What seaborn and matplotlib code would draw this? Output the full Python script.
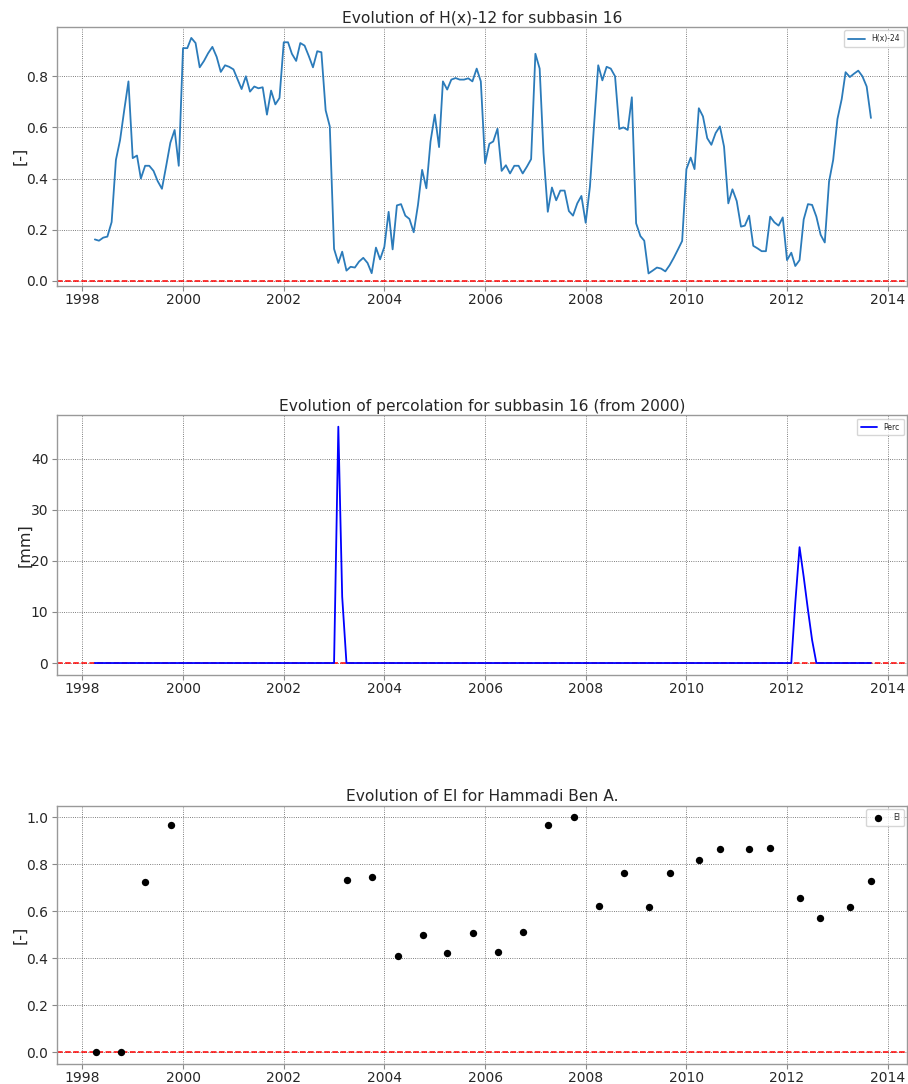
import numpy as np
import pandas as pd
import matplotlib
matplotlib.use("Agg")
import matplotlib.pyplot as plt
import matplotlib.dates as mdates
import seaborn as sns

# Monthly dates of the simulation output
months = pd.date_range("1998-04-01", "2013-09-01", freq="MS")

# H(x)-24 index, one row per year (1998 starts in April, 2013 ends in September)
hx_values = [
    0.162, 0.157, 0.169, 0.173, 0.230, 0.473, 0.550, 0.670, 0.780,
    0.480, 0.490, 0.400, 0.450, 0.450, 0.430, 0.390, 0.360, 0.450, 0.540, 0.590, 0.450,
    0.910, 0.910, 0.950, 0.930, 0.835, 0.860, 0.890, 0.915, 0.876, 0.817, 0.843, 0.837,
    0.827, 0.787, 0.750, 0.800, 0.740, 0.760, 0.753, 0.757, 0.650, 0.744, 0.690, 0.715,
    0.933, 0.933, 0.888, 0.860, 0.930, 0.920, 0.880, 0.835, 0.898, 0.894, 0.667, 0.604,
    0.125, 0.070, 0.114, 0.040, 0.055, 0.052, 0.075, 0.090, 0.070, 0.030, 0.130, 0.084,
    0.133, 0.270, 0.123, 0.295, 0.300, 0.255, 0.242, 0.190, 0.297, 0.434, 0.362, 0.545,
    0.650, 0.523, 0.780, 0.748, 0.787, 0.793, 0.787, 0.787, 0.792, 0.780, 0.830, 0.780,
    0.460, 0.536, 0.545, 0.595, 0.430, 0.452, 0.420, 0.450, 0.450, 0.420, 0.447, 0.476,
    0.888, 0.830, 0.500, 0.270, 0.365, 0.315, 0.353, 0.353, 0.273, 0.255, 0.303, 0.332,
    0.227, 0.369, 0.604, 0.843, 0.784, 0.837, 0.830, 0.800, 0.594, 0.600, 0.590, 0.718,
    0.225, 0.175, 0.157, 0.029, 0.040, 0.052, 0.048, 0.037, 0.061, 0.090, 0.123, 0.156,
    0.437, 0.482, 0.437, 0.675, 0.643, 0.558, 0.532, 0.578, 0.604, 0.525, 0.303, 0.358,
    0.312, 0.212, 0.216, 0.255, 0.137, 0.127, 0.116, 0.116, 0.251, 0.229, 0.216, 0.248,
    0.081, 0.110, 0.058, 0.081, 0.240, 0.300, 0.297, 0.251, 0.180, 0.150, 0.388, 0.473,
    0.633, 0.711, 0.816, 0.797, 0.810, 0.822, 0.800, 0.760, 0.637,
]

# Monthly percolation [mm], one row per year
perc_values = [
    0, 0, 0, 0, 0, 0, 0, 0, 0,
    0, 0, 0, 0, 0, 0, 0, 0, 0, 0, 0, 0,
    0, 0, 0, 0, 0, 0, 0, 0, 0, 0, 0, 0,
    0, 0, 0, 0, 0, 0, 0, 0, 0, 0, 0, 0,
    0, 0, 0, 0, 0, 0, 0, 0, 0, 0, 0, 0,
    0, 46.3, 13.0, 0, 0, 0, 0, 0, 0, 0, 0, 0,
    0, 0, 0, 0, 0, 0, 0, 0, 0, 0, 0, 0,
    0, 0, 0, 0, 0, 0, 0, 0, 0, 0, 0, 0,
    0, 0, 0, 0, 0, 0, 0, 0, 0, 0, 0, 0,
    0, 0, 0, 0, 0, 0, 0, 0, 0, 0, 0, 0,
    0, 0, 0, 0, 0, 0, 0, 0, 0, 0, 0, 0,
    0, 0, 0, 0, 0, 0, 0, 0, 0, 0, 0, 0,
    0, 0, 0, 0, 0, 0, 0, 0, 0, 0, 0, 0,
    0, 0, 0, 0, 0, 0, 0, 0, 0, 0, 0, 0,
    0, 0, 11.8, 22.7, 16.9, 10.4, 4.5, 0, 0, 0, 0, 0,
    0, 0, 0, 0, 0, 0, 0, 0, 0,
]

# EI observations at Hammadi Ben A.
ei_dates = pd.to_datetime([
    "1998-04-07", "1998-10-05", "1999-04-02", "1999-10-03",
    "2003-04-07", "2003-10-05", "2004-04-07", "2004-10-07",
    "2005-04-02", "2005-10-03", "2006-04-04", "2006-10-03",
    "2007-04-04", "2007-10-05", "2008-04-04", "2008-10-05",
    "2009-04-01", "2009-09-01", "2010-04-01", "2010-09-01",
    "2011-04-02", "2011-09-03", "2012-04-02", "2012-08-30",
    "2013-04-02", "2013-09-01",
])
ei_values = [
    0.000, 0.000, 0.726, 0.965,
    0.733, 0.745, 0.410, 0.499,
    0.421, 0.509, 0.427, 0.510,
    0.965, 1.000, 0.621, 0.764,
    0.618, 0.764, 0.816, 0.864,
    0.864, 0.868, 0.658, 0.570,
    0.618, 0.727,
]

hx_df = pd.DataFrame({"date": months, "value": hx_values})
perc_df = pd.DataFrame({"date": months, "value": perc_values})
ei_df = pd.DataFrame({"date": ei_dates, "value": ei_values})

sns.set_style("white")
plt.rcParams["font.family"] = ["DejaVu Sans"]

fig = plt.figure(figsize=(9.08, 10.84), dpi=100)
ax1 = fig.add_axes([0.0624, 0.7362, 0.937, 0.2392])
ax2 = fig.add_axes([0.0624, 0.3773, 0.937, 0.2399])
ax3 = fig.add_axes([0.0624, 0.0182, 0.937, 0.2386])

sns.lineplot(data=hx_df, x="date", y="value", ax=ax1, color="#2b7bba",
             linewidth=1.3, label="H(x)-24")
sns.lineplot(data=perc_df, x="date", y="value", ax=ax2, color="blue",
             linewidth=1.3, label="Perc")
sns.scatterplot(data=ei_df, x="date", y="value", ax=ax3, color="black",
                s=28, edgecolor="black", linewidth=0, label="EI", zorder=3)

x_left = pd.Timestamp("1997-06-28")
x_right = pd.Timestamp("2014-05-24")

panels = [
    (ax1, "Evolution of H(x)-12 for subbasin 16", "[-]", (-0.02, 0.994)),
    (ax2, "Evolution of percolation for subbasin 16 (from 2000)", "[mm]", (-2.35, 48.6)),
    (ax3, "Evolution of EI for Hammadi Ben A.", "[-]", (-0.051, 1.049)),
]
for ax, title, ylabel, ylim in panels:
    ax.axhline(0, color="red", linestyle="--", linewidth=1.1, zorder=1)
    ax.set_xlim(x_left, x_right)
    ax.set_ylim(*ylim)
    ax.xaxis.set_major_locator(mdates.YearLocator(2))
    ax.xaxis.set_major_formatter(mdates.DateFormatter("%Y"))
    ax.set_title(title, fontsize=11.2, pad=3)
    ax.set_xlabel("")
    ax.set_ylabel(ylabel, fontsize=11.5, labelpad=-1)
    ax.grid(True, linestyle=":", color="#555555", linewidth=0.6)
    ax.set_axisbelow(True)
    ax.tick_params(axis="both", labelsize=10, length=3.5, width=0.8,
                   color="#888888", direction="out", left=True, bottom=True)
    ax.tick_params(axis="x", pad=1.5)
    ax.tick_params(axis="y", pad=2.5)
    for spine in ax.spines.values():
        spine.set_color("#999999")
        spine.set_linewidth(1.0)
    ax.legend(loc="upper right", fontsize=5.5, frameon=True, handlelength=2.2,
              borderpad=0.5)

ax2.set_yticks([0, 10, 20, 30, 40])
ax3.set_yticks([0.0, 0.2, 0.4, 0.6, 0.8, 1.0])
ax1.set_yticks([0.0, 0.2, 0.4, 0.6, 0.8])

fig.savefig("out.png", dpi=100)
